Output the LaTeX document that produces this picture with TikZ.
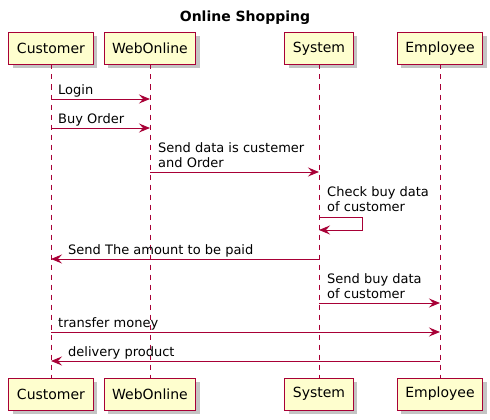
\documentclass[tikz,border=0pt]{standalone}
\usepackage{fontspec}
\setmainfont{DejaVu Sans}
\usetikzlibrary{arrows.meta,backgrounds}
\definecolor{pumlred}{HTML}{A80036}
\definecolor{pumlfill}{HTML}{FEFECE}
\definecolor{shadowgray}{HTML}{C4C4C4}
\tikzset{
  part/.style={color=pumlred, text=black, fill=pumlfill, line width=1pt, minimum height=31pt,
    inner xsep=7.5pt, inner ysep=0pt, font=\fontsize{14}{16}\selectfont},
  partframe/.style={draw=pumlred, line width=1pt},
  shad/.style={fill=shadowgray, draw=none},
  life/.style={draw=pumlred, line width=1pt, dash pattern=on 5pt off 5pt},
  msg/.style={draw=pumlred, line width=1pt, -{Stealth[length=11pt,width=9pt,inset=4pt]}},
  lbl/.style={anchor=south west, inner sep=0pt, text depth=3pt, align=left,
    font=\fontsize{13}{15}\selectfont}
}
\begin{document}
\begin{tikzpicture}[x=1pt,y=-1pt]
\useasboundingbox (0,0) rectangle (490,420);
\node[font=\bfseries\fontsize{14}{16}\selectfont] (title) at (245,18) {Online Shopping};
% top participants
\node[part] (c) at (51,48.5) {Customer};
\node[part] (w) at (150,48.5) {WebOnline};
\node[part] (s) at (319,48.5) {System};
\node[part] (e) at (440,48.5) {Employee};
% bottom participants
\node[part] (cb) at (51,394) {Customer};
\node[part] (wb) at (150,394) {WebOnline};
\node[part] (sb) at (319,394) {System};
\node[part] (eb) at (440,394) {Employee};
% shadows and frames
\begin{scope}[on background layer]
\foreach \n in {c,w,s,e,cb,wb,sb,eb}
  \fill[shad] ([shift={(4,4)}]\n.north west) rectangle ([shift={(4,4)}]\n.south east);
\end{scope}
\foreach \n in {c,w,s,e,cb,wb,sb,eb}
  \draw[partframe] (\n.north west) rectangle (\n.south east);
% lifelines
\draw[life] (c.south) -- (cb.north);
\draw[life] (w.south) -- (wb.north);
\draw[life] (s.south) -- (sb.north);
\draw[life] (e.south) -- (eb.north);
% messages
\draw[msg] (c |- 0,99) -- (w |- 0,99);
\node[lbl] (l1) at (58,98) {Login};
\draw[msg] (c |- 0,128) -- (w |- 0,128);
\node[lbl] (l2) at (58,127) {Buy Order};
\draw[msg] (w |- 0,172) -- (s |- 0,172);
\node[lbl] (l3) at (158,171) {Send data is custemer\\and Order};
\coordinate (selfa) at (362,217);
\coordinate (selfb) at (362,230);
\draw[msg] (s |- 0,217) -- (selfa) -- (selfb) -- (s |- 0,230);
\node[lbl] (l4) at (327,215) {Check buy data\\of customer};
\draw[msg] (s |- 0,259) -- (c |- 0,259);
\node[lbl] (l5) at (68,258) {Send The amount to be paid};
\draw[msg] (s |- 0,303) -- (e |- 0,303);
\node[lbl] (l6) at (327,302) {Send buy data\\of customer};
\draw[msg] (c |- 0,332) -- (e |- 0,332);
\node[lbl] (l7) at (58,331) {transfer money};
\draw[msg] (e |- 0,361) -- (c |- 0,361);
\node[lbl] (l8) at (68,360) {delivery product};
\end{tikzpicture}
\end{document}
